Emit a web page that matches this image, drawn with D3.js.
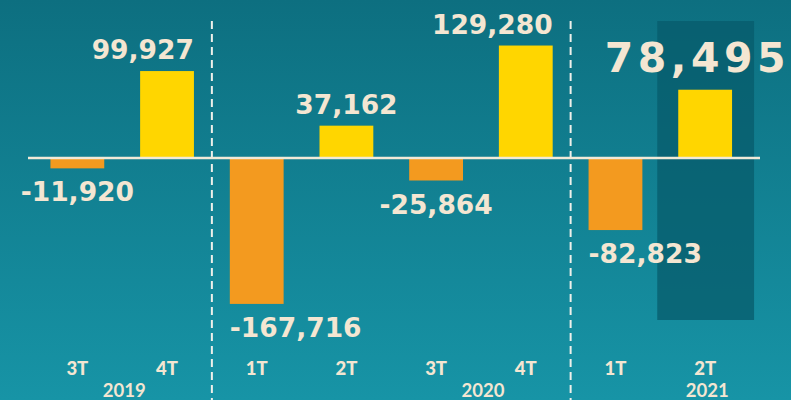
<!DOCTYPE html>
<html>
<head>
<meta charset="utf-8">
<script src="https://cdn.jsdelivr.net/npm/d3@7"></script>
<style>
  html, body { margin: 0; padding: 0; background: #0f7384; }
  svg { display: block; }
  .val { font-family: "DejaVu Sans", sans-serif; font-weight: 700; fill: #f4e6d2; }
  .tick { font-family: "Lato", "Open Sans", sans-serif; font-weight: 900; fill: #f4e6d2; font-size: 18.5px; }
  .year { font-family: "Lato", "Open Sans", sans-serif; font-weight: 700; fill: #f4e6d2; font-size: 18.5px; }
</style>
</head>
<body>
<div id="chart"></div>
<script>
// quarters and net values
var quarters = ["3T 2019", "4T 2019", "1T 2020", "2T 2020", "3T 2020", "4T 2020", "1T 2021", "2T 2021"];
var quarterLabels = ["3T", "4T", "1T", "2T", "3T", "4T", "1T", "2T"];
var values = [-11920, 99927, -167716, 37162, -25864, 129280, -82823, 78495];
var valueLabels = ["-11,920", "99,927", "-167,716", "37,162", "-25,864", "129,280", "-82,823", "78,495"];
// year labels sit under a span of quarters (first, last index)
var years = ["2019", "2020", "2021"];
var yearSpans = [[0, 1], [4, 5], [7, 7]];
var separators = [[1, 2], [5, 6]];
var highlight = 7;

var width = 791, height = 400;

var svg = d3.select("#chart").append("svg")
    .attr("width", width)
    .attr("height", height);

var defs = svg.append("defs");
var grad = defs.append("linearGradient")
    .attr("id", "bg").attr("x1", 0).attr("y1", 0).attr("x2", 0).attr("y2", 1);
grad.append("stop").attr("offset", "0%").attr("stop-color", "#0d6f80");
grad.append("stop").attr("offset", "100%").attr("stop-color", "#1794a6");

svg.append("rect")
    .attr("width", width).attr("height", height)
    .attr("fill", "url(#bg)");

var x = d3.scaleBand()
    .domain(quarters)
    .range([32.5, 750])
    .paddingInner(0.4)
    .paddingOuter(0.2);

var y = d3.scaleLinear()
    .domain([0, 100000])
    .range([158, 71]);

var bw = x.bandwidth();

// highlight box behind the latest quarter
svg.append("rect")
    .attr("x", x(quarters[highlight]) - 21)
    .attr("y", 21)
    .attr("width", bw + 43)
    .attr("height", 299)
    .attr("fill", "#075b6b")
    .attr("opacity", 0.75);

// dashed year separators
var sepX = separators.map(s => (x(quarters[s[0]]) + bw + x(quarters[s[1]])) / 2);
svg.selectAll(".sep")
    .data(sepX)
    .join("line")
    .attr("class", "sep")
    .attr("x1", d => d).attr("x2", d => d)
    .attr("y1", 21).attr("y2", height)
    .attr("stroke", "#eef0ea")
    .attr("stroke-width", 2)
    .attr("stroke-dasharray", "8,5");

// bars
svg.selectAll(".bar")
    .data(values)
    .join("rect")
    .attr("class", "bar")
    .attr("x", (d, i) => x(quarters[i]))
    .attr("width", bw)
    .attr("y", d => Math.min(y(d), y(0)))
    .attr("height", d => Math.abs(y(d) - y(0)))
    .attr("fill", d => d < 0 ? "#f39a1f" : "#ffd600");

// zero line
svg.append("line")
    .attr("x1", 28).attr("x2", 760)
    .attr("y1", y(0)).attr("y2", y(0))
    .attr("stroke", "#f1ead8")
    .attr("stroke-width", 2.5);

// value labels
var labels = svg.selectAll(".val")
    .data(values)
    .join("text")
    .attr("class", "val")
    .attr("font-size", (d, i) => i === highlight ? 41 : 26.5)
    .attr("letter-spacing", (d, i) => i === highlight ? 4.5 : 0)
    .attr("y", (d, i) => i === highlight ? 72 : (d < 0 ? y(d) + 33 : y(d) - 12))
    .text((d, i) => valueLabels[i]);

// center on bar, but keep clear of the separators by aligning to a bar edge
labels.each(function(d, i) {
    var w = this.getComputedTextLength();
    var cx = x(quarters[i]) + bw / 2;
    var left = cx - w / 2, right = cx + w / 2;
    var xPos = left;
    sepX.forEach(function(s) {
        if (left < s && right > s) {
            xPos = s < cx ? x(quarters[i]) : x(quarters[i]) + bw - w;
        }
    });
    // keep inside the picture
    if (xPos + w > width - 1) xPos = width - 1 - w;
    d3.select(this).attr("x", xPos);
});

// quarter ticks
svg.selectAll(".tick")
    .data(quarterLabels)
    .join("text")
    .attr("class", "tick")
    .attr("x", (d, i) => x(quarters[i]) + bw / 2)
    .attr("y", 375)
    .attr("text-anchor", "middle")
    .text(d => d);

svg.selectAll(".year")
    .data(years)
    .join("text")
    .attr("class", "year")
    .attr("x", (d, i) => (x(quarters[yearSpans[i][0]]) + x(quarters[yearSpans[i][1]])) / 2 + bw / 2 + 2)
    .attr("y", 397)
    .attr("text-anchor", "middle")
    .text(d => d);
</script>
</body>
</html>
